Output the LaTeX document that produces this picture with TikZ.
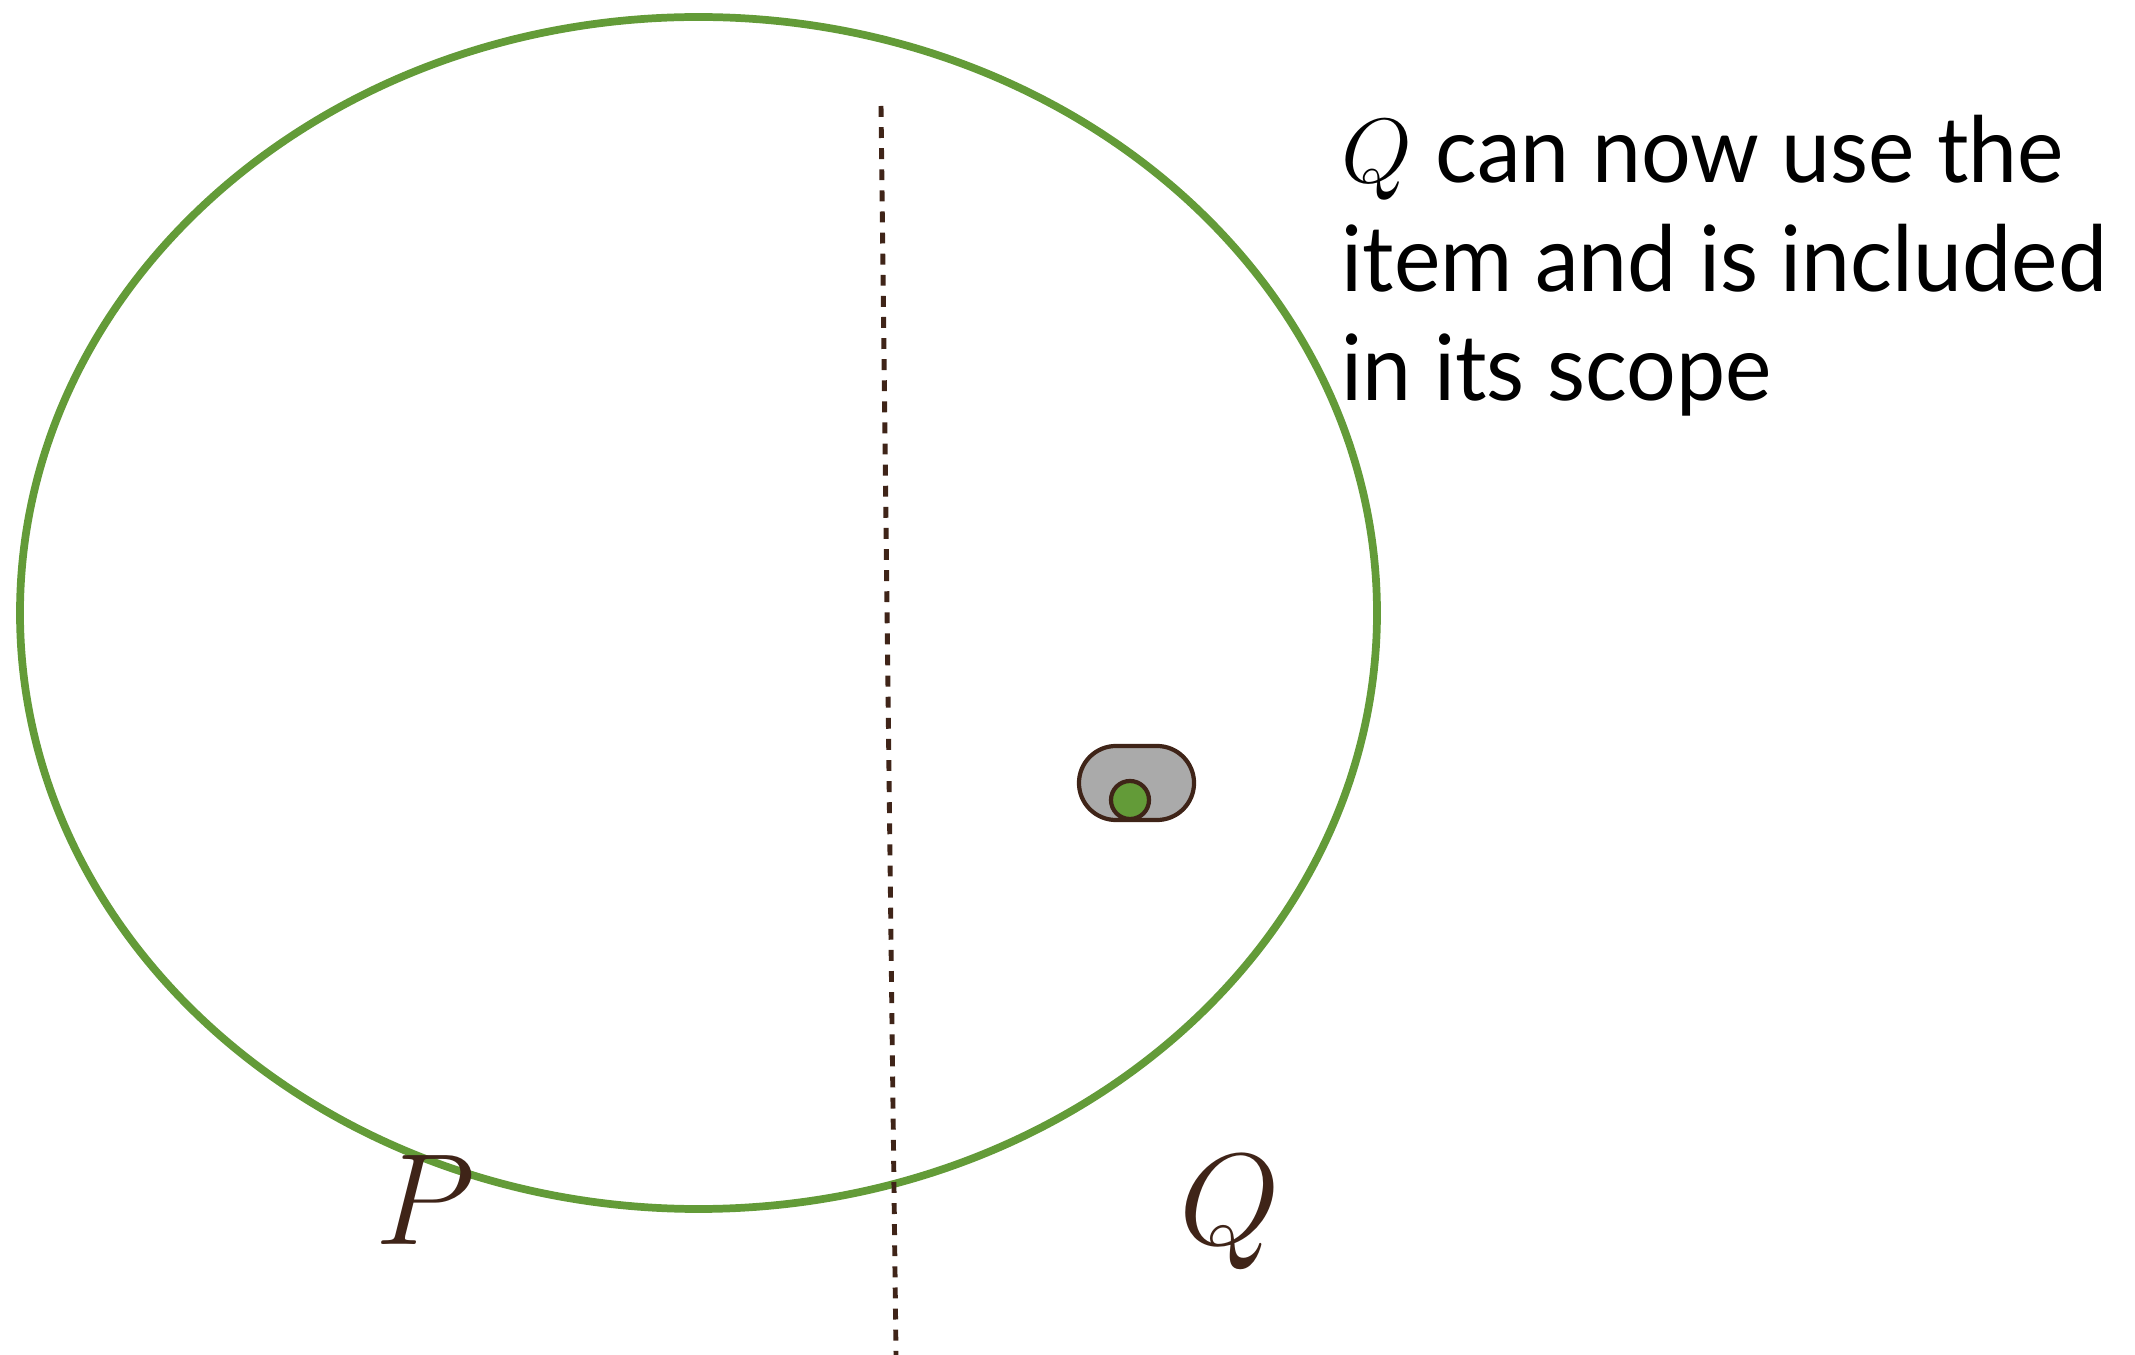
\RequirePackage{fix-cm}
\documentclass[tikz,border=0pt]{standalone}
\usepackage{fontspec}
\setsansfont[FakeStretch=0.96]{Lato}
\definecolor{scopegreen}{RGB}{99,155,56}
\definecolor{itembrown}{RGB}{63,36,24}
\definecolor{itemgray}{RGB}{170,170,170}
\begin{document}
\begin{tikzpicture}[x=0.01cm, y=-0.01cm, every node/.style={inner sep=0pt}]
\useasboundingbox (0,0) rectangle (2135,1355);
% scope of P, split line and the item
\draw[scopegreen, line width=2.2pt] (698.5,613) ellipse [x radius=678.5, y radius=596];
\coordinate (splittop) at (881,106);
\coordinate (splitbot) at (896,1355);
\draw[itembrown, line width=1.4pt, dash pattern=on 3.1pt off 2.9pt] (splittop) -- (splitbot);
\node[draw=itembrown, line width=1.2pt, fill=itemgray, minimum width=1.15cm, minimum height=0.74cm, rounded corners=0.37cm] (item) at (1136.5,783) {};
\node[draw=itembrown, line width=1.2pt, fill=scopegreen, circle, minimum size=0.38cm] (itemdot) at (1130,800) {};
\node[text=itembrown, font=\fontsize{37}{42}\selectfont, anchor=base] (labP) at (425,1244) {$P$};
\node[text=itembrown, font=\fontsize{37}{42}\selectfont, anchor=base] (labQ) at (1230,1244) {$Q$};
\node[font=\sffamily\fontsize{26}{31}\selectfont, align=left, anchor=north west] (note) at (1341,114) {$Q$ can now use the\\item and is included\\in its scope};
\end{tikzpicture}
\end{document}
